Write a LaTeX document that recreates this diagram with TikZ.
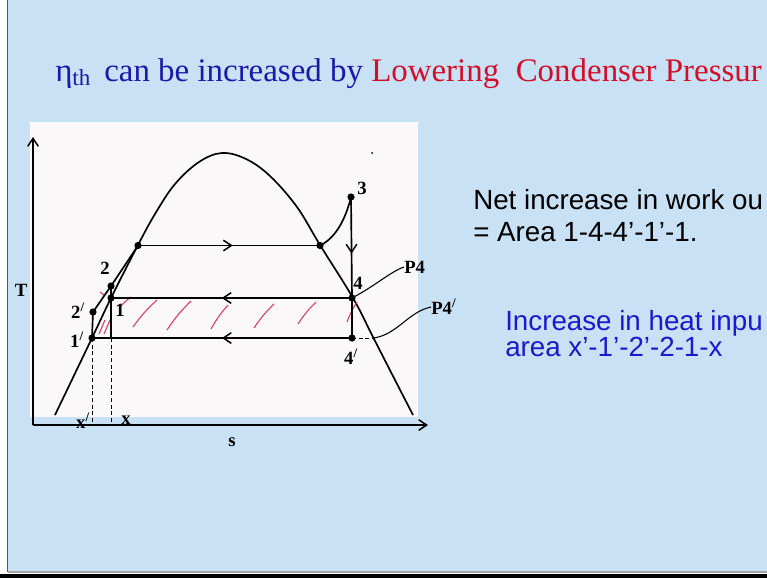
\documentclass[tikz,border=0pt]{standalone}
\usepackage{fontspec}
\setmainfont{Liberation Serif}
\newfontfamily\arialf{Liberation Sans}
\usetikzlibrary{arrows.meta,decorations.markings}
\definecolor{bgblue}{RGB}{201,225,244}
\definecolor{plotwhite}{RGB}{250,248,248}
\definecolor{ttlblue}{RGB}{25,25,170}
\definecolor{ttlred}{RGB}{210,15,40}
\definecolor{txtblue}{RGB}{25,25,205}
\definecolor{hatchred}{RGB}{220,60,95}
\definecolor{edgegray}{RGB}{90,90,100}
\begin{document}
\begin{tikzpicture}[x=0.75pt,y=-0.75pt,
  curve/.style={line width=1.25pt},
  dot/.style={circle,fill=black,inner sep=0pt,minimum size=5.4pt},
  lbl/.style={font=\fontsize{14}{14}\selectfont\bfseries,inner sep=0pt},
  rtext/.style={anchor=base west,inner sep=0pt,font=\arialf\fontsize{20.8}{20.8}\selectfont},
  midarrow/.style={postaction={decorate},decoration={markings,mark=at position #1 with {\arrow{Straight Barb[length=6pt,width=8pt,line width=1.1pt]}}}},
  hatchline/.style={hatchred,line width=0.8pt},
  guide/.style={densely dashed,line width=0.5pt},
  axisarrow/.style={line width=1.25pt,-{Straight Barb[length=6pt,width=8pt,line width=1.1pt]}}
]
\useasboundingbox (0,0) rectangle (767,578);
\clip (0,0) rectangle (767,578);
% background
\fill[white] (0,0) rectangle (767,578);
\fill[bgblue] (8,0) rectangle (767,572);
\draw[edgegray,line width=1.2pt] (7.5,0) -- (7.5,572);
\draw[gray!70,line width=0.8pt] (7.5,572) -- (767,572);
\fill[black] (0,573.5) rectangle (767,578);
\fill[plotwhite] (30,122) rectangle (418,417);

% title
\node[anchor=base west,inner sep=0pt,font=\fontsize{24.7}{24.7}\selectfont] (title) at (55,81)
  {\color{ttlblue}η\textsubscript{th}\hspace{0.4em}can be increased by \color{ttlred}Lowering\hspace{0.25em} Condenser Pressur};

% axes
\coordinate (O) at (33,425);
\coordinate (Ttop) at (33,137);
\coordinate (Send) at (428,425);
\draw[axisarrow] (O) -- (Ttop);
\draw[axisarrow] (O) -- (Send);
\node[lbl] (lT) at (21,290) {T};
\node[lbl] (ls) at (232,442) {s};

% saturation dome
\draw[curve] plot[smooth,tension=0.6] coordinates {(55,415) (92,338) (111,298) (138,245) (155,214) (175,184) (199,162) (222,153) (246,159) (270,176) (297,207) (320,245) (353,298) (373,337) (395,380) (413,415)};

% stray dot
\fill (372,153) circle (1);

% hatching
\draw[hatchline] (99,334) -- (105,320);
\draw[hatchline] (104,334) -- (110,320);
\draw[hatchline] (100,292) -- (104,295);
\draw[hatchline] (121,306) to[bend left=6] (131,297);
\draw[hatchline] (133,327) to[bend left=6] (157,300);
\draw[hatchline] (167,330) to[bend left=6] (191,301);
\draw[hatchline] (211,329) to[bend left=6] (228,305);
\draw[hatchline] (254,328) to[bend left=6] (274,304);
\draw[hatchline] (298,324) to[bend left=6] (316,302);
\draw[hatchline] (347,322) to[bend left=6] (357,302);

% state points
\node[dot] (pA) at (138,245.5) {};
\node[dot] (pB) at (320,245.5) {};
\node[dot] (p3) at (351,197) {};
\node[dot] (p4) at (352,298) {};
\node[dot] (p4p) at (352,338) {};
\node[dot] (p1) at (111,298) {};
\node[dot] (p2) at (111,286) {};
\node[dot] (p1p) at (92,338) {};
\node[dot] (p2p) at (93,312) {};
\coordinate (q1) at (111,338);
\coordinate (xa) at (111,425);
\coordinate (xpa) at (92,425);
\coordinate (d4) at (374,338);

% cycle lines
\draw[curve,midarrow=0.52] (pA.center) -- (pB.center);
\draw[curve] (pB.center) .. controls (336,238) and (346,218) .. (p3.center);
\draw[curve,midarrow=0.56] (p3.center) -- (p4.center);
\draw[curve] (p4.center) -- (p4p.center);
\draw[curve,midarrow=0.54] (p4.center) -- (p1.center);
\draw[curve,midarrow=0.5] (p4p.center) -- (p1p.center);
\draw[curve] (p1p.center) -- (p2p.center) -- (p2.center) -- (pA.center);
\draw[curve] (p2.center) -- (p1.center) -- (q1);
\draw[guide] (q1) -- (xa);
\draw[guide] (p1p.center) -- (xpa);
\draw[guide] (p4p.center) -- (d4);

% labels
\node[lbl] (l3) at (362,188) {3};
\node[lbl] (l4) at (358,283) {4};
\node[lbl] (l4p) at (351,357) {4\textsuperscript{/}};
\node[lbl] (l2) at (105,268) {2};
\node[lbl] (l1) at (120,310) {1};
\node[lbl] (l2p) at (78,311) {2\textsuperscript{/}};
\node[lbl] (l1p) at (77,340) {1\textsuperscript{/}};
\node[lbl] (lxp) at (83,421) {x\textsuperscript{/}};
\node[lbl] (lx) at (126,420) {x};
\node[lbl,anchor=west] (lP4) at (404,267) {P4};
\node[lbl,anchor=west] (lP4p) at (431,307) {P4\textsuperscript{/}};
\draw[line width=0.8pt] (p4.center) .. controls (375,286) and (390,272) .. (lP4.west);
\draw[line width=0.8pt] (d4) .. controls (398,334) and (408,312) .. (lP4p.west);

% right-hand text
\node[rtext] (t1) at (473,209) {Net increase in work ou};
\node[rtext] (t2) at (473,241) {= Area 1-4-4’-1’-1.};
\node[rtext,text=txtblue] (t3) at (505,330) {Increase in heat inpu};
\node[rtext,text=txtblue] (t4) at (505,356) {area x’-1’-2’-2-1-x};
\end{tikzpicture}
\end{document}
